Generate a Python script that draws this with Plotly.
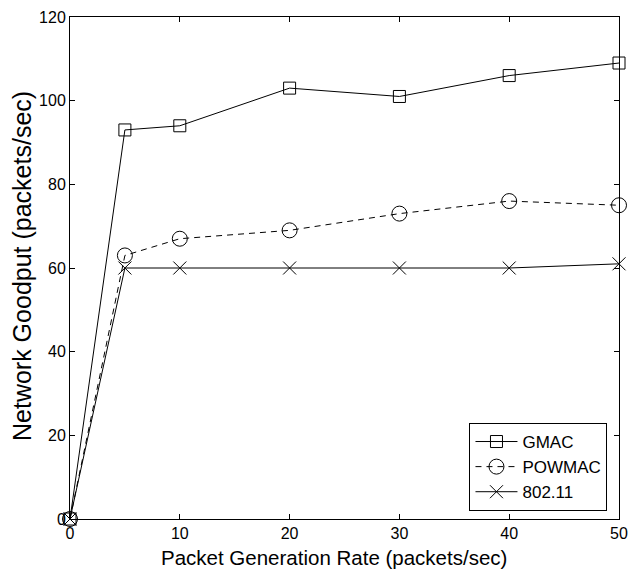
import plotly.graph_objects as go

rates = [0, 5, 10, 20, 30, 40, 50]
gmac = [0, 93, 94, 103, 101, 106, 109]
powmac = [0, 63, 67, 69, 73, 76, 75]
ieee80211 = [0, 60, 60, 60, 60, 60, 61]

x_ticks = [0, 10, 20, 30, 40, 50]
y_ticks = [0, 20, 40, 60, 80, 100, 120]

FONT = "Liberation Sans, Arial"

fig = go.Figure()
fig.add_trace(go.Scatter(
    x=rates, y=gmac, name="GMAC", mode="lines+markers",
    line=dict(color="black", width=1),
    marker=dict(symbol="square-open", size=12, color="black", line=dict(width=1)),
    cliponaxis=False))
fig.add_trace(go.Scatter(
    x=rates, y=powmac, name="POWMAC", mode="lines+markers",
    line=dict(color="black", width=1, dash="6px,5px"),
    marker=dict(symbol="circle-open", size=15, color="black", line=dict(width=1)),
    cliponaxis=False))
fig.add_trace(go.Scatter(
    x=rates, y=ieee80211, name="802.11", mode="lines+markers",
    line=dict(color="black", width=1),
    marker=dict(symbol="x-thin-open", size=13, color="black", line=dict(width=1)),
    cliponaxis=False))

axis_common = dict(
    showline=True, linecolor="black", linewidth=1, mirror="ticks",
    ticks="inside", ticklen=5, tickcolor="black", showgrid=False, zeroline=False,
    automargin=False,
    tickfont=dict(family=FONT, size=16, color="black"),
)
fig.update_xaxes(range=[0, 50], tickvals=x_ticks, **axis_common)
fig.update_yaxes(range=[0, 120], tickvals=y_ticks, **axis_common)

# axis titles placed in paper space
fig.add_annotation(text="Packet Generation Rate (packets/sec)",
                   xref="paper", yref="paper", x=0.162, y=-0.077,
                   xanchor="left", yanchor="middle", showarrow=False,
                   font=dict(family=FONT, size=20.5, color="black"))
fig.add_annotation(text="Network Goodput (packets/sec)",
                   xref="paper", yref="paper", x=-0.0874, y=0.504,
                   xanchor="center", yanchor="middle", textangle=-90, showarrow=False,
                   font=dict(family=FONT, size=25, color="black"))

fig.update_layout(
    width=628, height=569,
    margin=dict(l=70, r=9, t=17, b=50),
    plot_bgcolor="white", paper_bgcolor="white",
    legend=dict(x=0.979, y=0.016, xanchor="right", yanchor="bottom",
                bordercolor="black", borderwidth=1, bgcolor="white",
                font=dict(family=FONT, size=17, color="black"),
                tracegroupgap=0, itemwidth=42),
)
fig.write_html("out.html")
